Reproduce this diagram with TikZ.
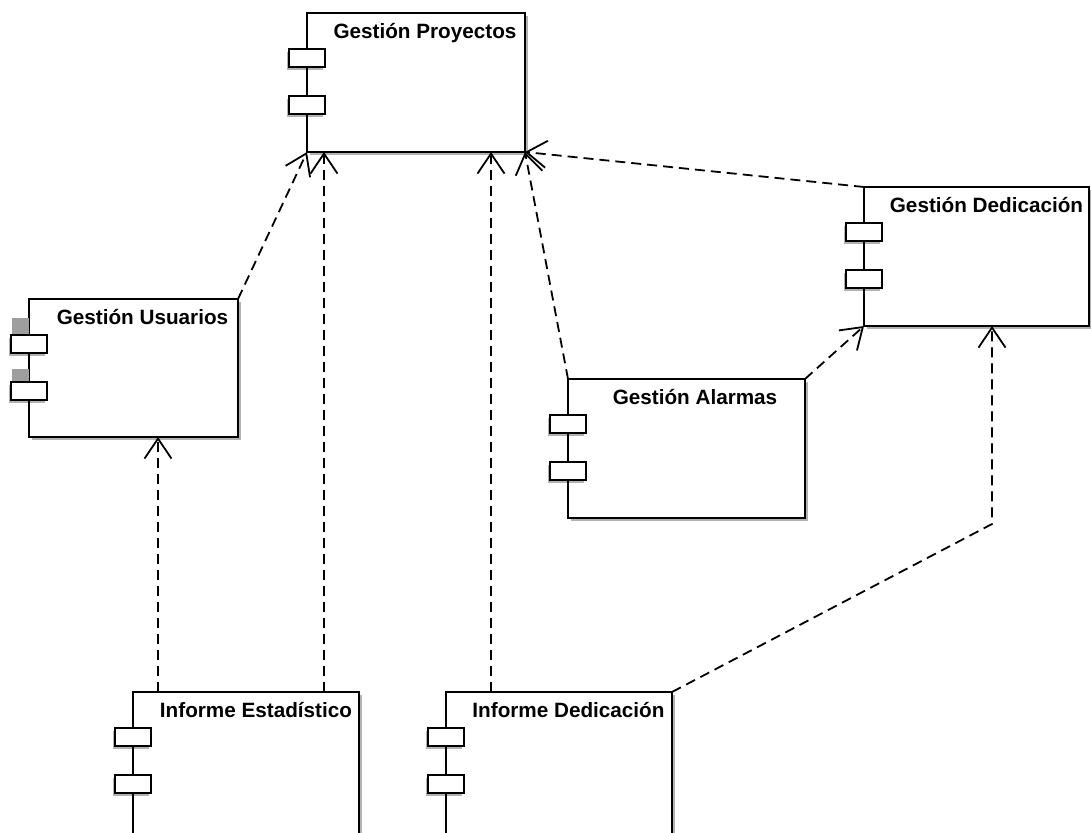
\documentclass[tikz,border=0pt]{standalone}
\usepackage{fontspec}
\setmainfont{Liberation Sans}
\usetikzlibrary{arrows.meta,shadows}
\begin{document}
\begin{tikzpicture}[x=1pt,y=-1pt,
  comp/.style={draw=black, line width=2pt, fill=white, rectangle, inner sep=0pt,
    outer sep=0pt, anchor=north west,
    drop shadow={shadow xshift=3pt,shadow yshift=-3pt,fill=black,opacity=0.3}},
  port/.style={draw=black, line width=1.6pt, fill=white,
    drop shadow={shadow xshift=-2pt,shadow yshift=-3pt,fill=black,opacity=0.3}},
  title/.style={anchor=base, inner sep=0pt, font=\fontsize{20.7}{24}\selectfont\bfseries},
  dep/.style={draw=black, line width=1.8pt, dash pattern=on 10pt off 6pt,
    -{Straight Barb[length=20pt,width=27pt,line width=1.8pt]}}
]
\useasboundingbox (0,0) rectangle (1091,832);
\clip (0,0) rectangle (1091,832);

% component boxes
\node[comp, minimum width=218pt, minimum height=139pt] (gp) at (307,13) {};
\node[comp, minimum width=225pt, minimum height=139pt] (gd) at (864,187) {};
\node[comp, minimum width=209pt, minimum height=138pt] (gu) at (29,299) {};
\node[comp, minimum width=237pt, minimum height=139pt] (ga) at (568,379) {};
\node[comp, minimum width=226pt, minimum height=142pt] (ie) at (133,692) {};
\node[comp, minimum width=226pt, minimum height=142pt] (id) at (446,692) {};

% titles
\node[title] (gpt) at (425,38.5) {Gestión Proyectos};
\node[title] (gdt) at (986.5,212.5) {Gestión Dedicación};
\node[title] (gut) at (142.5,324.5) {Gestión Usuarios};
\node[title] (gat) at (695,404.5) {Gestión Alarmas};
\node[title] (iet) at (256,717.5) {Informe Estadístico};
\node[title] (idt) at (568.5,717.5) {Informe Dedicación};

% grey patches beside the ports of Gestión Usuarios
\fill[black!38] (12,318) rectangle (29,335);
\fill[black!38] (12,369) rectangle (29,382);

% ports on the left edge of each component
\foreach \n in {gp,gd,gu,ga,ie,id}{
  \draw[port] ([xshift=-18pt,yshift=-36pt]\n.north west) rectangle ++(36,18);
  \draw[port] ([xshift=-18pt,yshift=-83pt]\n.north west) rectangle ++(36,18);
}

% dependencies
\coordinate (bend) at (992,524);
\draw[dep] (gu.north east) -- (gp.south west);
\draw[dep] ([xshift=25pt]ie.north west) -- ([xshift=129pt]gu.south west);
\draw[dep] ([xshift=191pt]ie.north west) -- ([xshift=17pt]gp.south west);
\draw[dep] ([xshift=45pt]id.north west) -- ([xshift=184pt]gp.south west);
\draw[dep] (ga.north west) -- (gp.south east);
\draw[dep] (gd.north west) -- (gp.south east);
\draw[dep] (ga.north east) -- (gd.south west);
\draw[dep] (id.north east) -- (bend) -- ([xshift=128pt]gd.south west);
\end{tikzpicture}
\end{document}
